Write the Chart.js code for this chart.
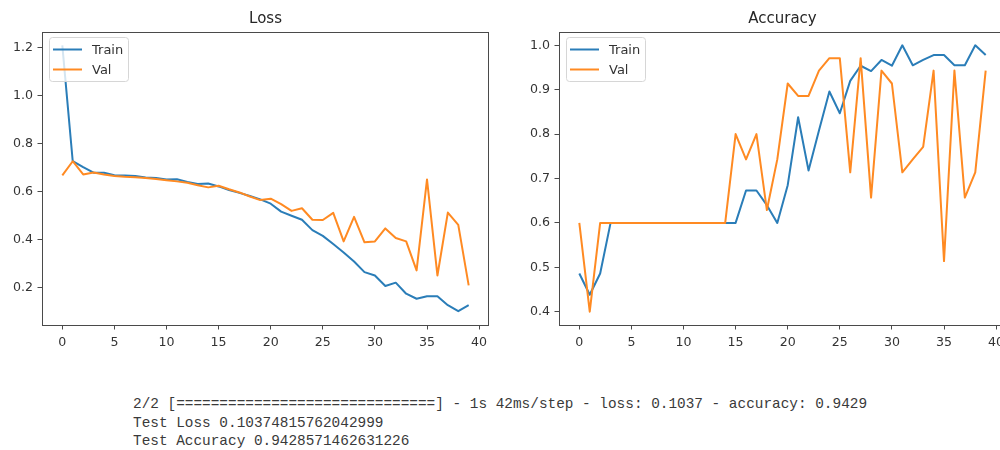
<!DOCTYPE html>
<html>
<head>
<meta charset="utf-8">
<script src="https://cdn.jsdelivr.net/npm/chart.js@4/dist/chart.umd.min.js"></script>
<style>
html,body{margin:0;padding:0;background:#fff;overflow:hidden;width:1000px;height:450px;}
#wrap{position:relative;width:1000px;height:450px;overflow:hidden;background:#fff;}
.cbox{position:absolute;top:0;width:500px;height:360px;}
#log{position:absolute;left:133px;top:395px;font-family:"Liberation Mono","DejaVu Sans Mono",monospace;font-size:14.4px;line-height:18.5px;color:#3a3a3a;white-space:pre;margin:0;}
</style>
</head>
<body>
<div id="wrap">
  <div class="cbox" style="left:0px"><canvas id="lossChart" width="500" height="360"></canvas></div>
  <div class="cbox" style="left:517px"><canvas id="accChart" width="500" height="360"></canvas></div>
  <pre id="log">2/2 [==============================] - 1s 42ms/step - loss: 0.1037 - accuracy: 0.9429
Test Loss 0.10374815762042999
Test Accuracy 0.9428571462631226</pre>
</div>
<script>
// ---- data ----
const epochs = [0,1,2,3,4,5,6,7,8,9,10,11,12,13,14,15,16,17,18,19,20,21,22,23,24,25,26,27,28,29,30,31,32,33,34,35,36,37,38,39];
const lossTrain = [1.21,0.727,0.702,0.679,0.679,0.669,0.667,0.665,0.659,0.657,0.651,0.652,0.641,0.632,0.634,0.622,0.607,0.595,0.582,0.568,0.550,0.517,0.500,0.483,0.440,0.416,0.382,0.347,0.309,0.265,0.251,0.207,0.221,0.175,0.154,0.164,0.164,0.127,0.102,0.127];
const lossVal = [0.668,0.727,0.672,0.680,0.672,0.665,0.662,0.660,0.657,0.653,0.648,0.643,0.637,0.627,0.618,0.625,0.610,0.597,0.580,0.565,0.571,0.548,0.520,0.531,0.483,0.482,0.512,0.393,0.495,0.389,0.393,0.447,0.407,0.393,0.272,0.651,0.251,0.513,0.462,0.210];
const accTrain = [0.486,0.438,0.486,0.600,0.600,0.600,0.600,0.600,0.600,0.600,0.600,0.600,0.600,0.600,0.600,0.600,0.673,0.673,0.640,0.600,0.685,0.838,0.718,0.808,0.896,0.847,0.920,0.954,0.942,0.967,0.954,1.000,0.955,0.967,0.978,0.978,0.955,0.955,1.000,0.978];
const accVal = [0.600,0.400,0.600,0.600,0.600,0.600,0.600,0.600,0.600,0.600,0.600,0.600,0.600,0.600,0.600,0.800,0.743,0.800,0.629,0.743,0.914,0.886,0.886,0.943,0.971,0.971,0.714,0.971,0.657,0.943,0.914,0.714,0.743,0.771,0.943,0.514,0.943,0.657,0.714,0.943];
const xTicks = [0,5,10,15,20,25,30,35,40];
const lossYTicks = [0.2,0.4,0.6,0.8,1.0,1.2];
const lossYLabels = ['0.2','0.4','0.6','0.8','1.0','1.2'];
const accYTicks = [0.4,0.5,0.6,0.7,0.8,0.9,1.0];
const accYLabels = ['0.4','0.5','0.6','0.7','0.8','0.9','1.0'];
const seriesNames = ['Train','Val'];
const titles = ['Loss','Accuracy'];

// ---- styles ----
const C_TRAIN = '#2a7db8', C_VAL = '#ff8a22';
const TICK_FONT = {family:'"DejaVu Sans", sans-serif', size:12.6};
const INK = '#333333';

const framePlugin = {
  id: 'frameTitleLegend',
  afterDraw(chart, args, opts) {
    const {ctx, chartArea: a} = chart;
    ctx.save();
    // spines
    ctx.strokeStyle = '#4a4a4a';
    ctx.lineWidth = 1;
    ctx.strokeRect(Math.round(a.left) + 0.5, Math.round(a.top) + 0.5, Math.round(a.right - a.left) - 1, Math.round(a.bottom - a.top));
    // title
    ctx.fillStyle = '#262626';
    ctx.font = '15px "DejaVu Sans", sans-serif';
    ctx.textAlign = 'center';
    ctx.textBaseline = 'middle';
    ctx.fillText(opts.title, (a.left + a.right) / 2, 19);
    // legend box
    const bx = a.left + 7.5, by = 37.5, bw = 79, bh = 44, r = 3;
    ctx.beginPath();
    ctx.moveTo(bx + r, by);
    ctx.lineTo(bx + bw - r, by);
    ctx.quadraticCurveTo(bx + bw, by, bx + bw, by + r);
    ctx.lineTo(bx + bw, by + bh - r);
    ctx.quadraticCurveTo(bx + bw, by + bh, bx + bw - r, by + bh);
    ctx.lineTo(bx + r, by + bh);
    ctx.quadraticCurveTo(bx, by + bh, bx, by + bh - r);
    ctx.lineTo(bx, by + r);
    ctx.quadraticCurveTo(bx, by, bx + r, by);
    ctx.closePath();
    ctx.fillStyle = 'rgba(255,255,255,0.8)';
    ctx.fill();
    ctx.strokeStyle = '#d6d6d6';
    ctx.stroke();
    const ds = chart.data.datasets.slice().sort((p, q) => seriesNames.indexOf(p.label) - seriesNames.indexOf(q.label));
    ds.forEach((d, i) => {
      const y = 49.5 + i * 20;
      ctx.strokeStyle = d.borderColor;
      ctx.lineWidth = 2;
      ctx.beginPath();
      ctx.moveTo(a.left + 11, y);
      ctx.lineTo(a.left + 40, y);
      ctx.stroke();
      ctx.fillStyle = INK;
      ctx.font = '13px "DejaVu Sans", sans-serif';
      ctx.textAlign = 'left';
      ctx.textBaseline = 'middle';
      ctx.fillText(d.label, a.left + 50, y + 1);
    });
    ctx.restore();
  }
};

function makeChart(id, title, train, val, yMin, yMax, yTicks, yLabels) {
  const toPts = arr => epochs.map((e, i) => ({x: e, y: arr[i]}));
  return new Chart(document.getElementById(id), {
    type: 'line',
    data: {
      datasets: [
        {label: seriesNames[0], data: toPts(train), borderColor: C_TRAIN, backgroundColor: C_TRAIN, borderWidth: 2, pointRadius: 0, tension: 0, order: 2, borderJoinStyle: 'round'},
        {label: seriesNames[1], data: toPts(val), borderColor: C_VAL, backgroundColor: C_VAL, borderWidth: 2, pointRadius: 0, tension: 0, order: 1, borderJoinStyle: 'round'}
      ]
    },
    options: {
      responsive: false,
      animation: false,
      devicePixelRatio: 1,
      layout: {padding: {top: 32, right: 11, left: 0, bottom: 0}},
      plugins: {
        legend: {display: false},
        tooltip: {enabled: false},
        title: {display: false},
        frameTitleLegend: {title: title}
      },
      scales: {
        x: {
          type: 'linear',
          min: -1.95, max: 40.95,
          afterBuildTicks: s => { s.ticks = xTicks.map(v => ({value: v})); },
          afterFit: s => { s.height = 35; },
          grid: {display: true, drawOnChartArea: false, drawTicks: true, tickLength: 4.5, tickColor: '#4a4a4a', tickWidth: 1},
          border: {display: false},
          ticks: {font: TICK_FONT, color: INK, padding: 5.5, maxRotation: 0, autoSkip: false, callback: v => String(v)}
        },
        y: {
          type: 'linear',
          min: yMin, max: yMax,
          afterBuildTicks: s => { s.ticks = yTicks.map(v => ({value: v})); },
          afterFit: s => { s.width = 42; },
          grid: {display: true, drawOnChartArea: false, drawTicks: true, tickLength: 4.5, tickColor: '#4a4a4a', tickWidth: 1},
          border: {display: false},
          ticks: {font: TICK_FONT, color: INK, padding: 4.5, autoSkip: false, callback: (v, i) => yLabels[i]}
        }
      }
    },
    plugins: [framePlugin]
  });
}

makeChart('lossChart', titles[0], lossTrain, lossVal, 0.0446, 1.2654, lossYTicks, lossYLabels);
makeChart('accChart', titles[1], accTrain, accVal, 0.37, 1.03, accYTicks, accYLabels);
</script>
</body>
</html>
